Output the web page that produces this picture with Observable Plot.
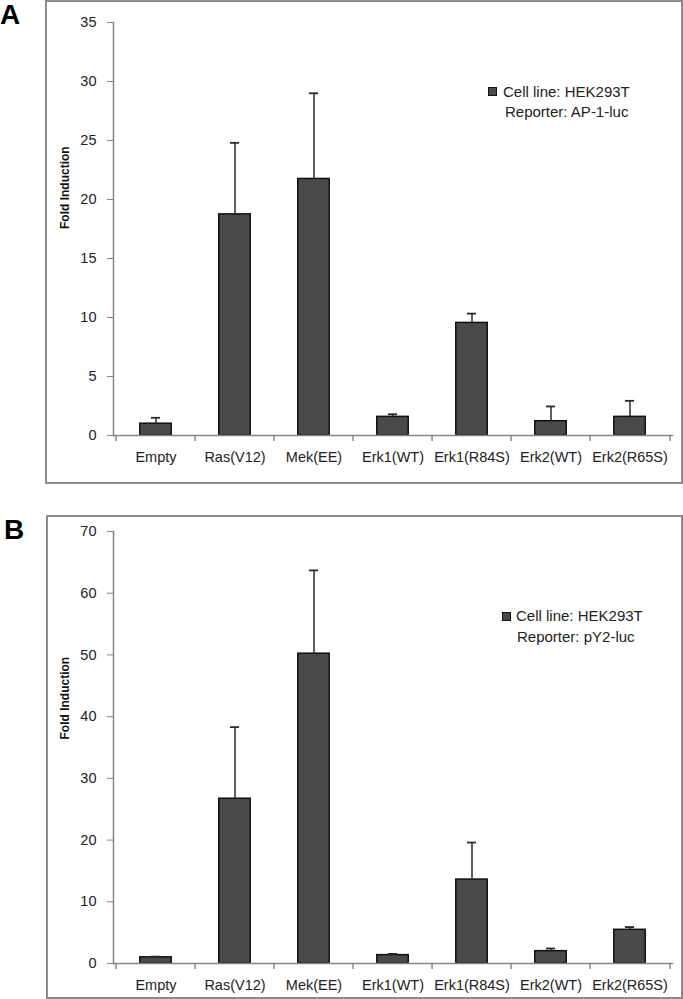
<!DOCTYPE html>
<html><head><meta charset="utf-8">
<script src="https://cdn.jsdelivr.net/npm/d3@7"></script>
<script src="https://cdn.jsdelivr.net/npm/@observablehq/plot@0.6"></script>
<style>
body{margin:0;background:#fff;width:683px;height:999px;position:relative;overflow:hidden;font-family:"Liberation Sans",Arial,sans-serif;}
.box{position:absolute;border:2px solid #8c8c8c;box-sizing:border-box;}
.plot{position:absolute;left:0;}
.letter{position:absolute;font-weight:bold;font-size:28px;line-height:28px;color:#000;}
.leg{position:absolute;font-size:15px;line-height:20px;color:#222;white-space:nowrap;}
.sw{position:absolute;width:9px;height:9px;background:#4a4a4a;border:1px solid #111;box-sizing:border-box;}
</style></head><body>
<script>
const categories = ["Empty","Ras(V12)","Mek(EE)","Erk1(WT)","Erk1(R84S)","Erk2(WT)","Erk2(R65S)"];
const valuesA = [1.0, 18.74, 21.74, 1.58, 9.54, 1.21, 1.58];
const errorsA = [0.5, 6.06, 7.26, 0.22, 0.79, 1.25, 1.36];
const valuesB = [1.0, 26.7, 50.2, 1.36, 13.6, 2.0, 5.46];
const errorsB = [0.12, 11.6, 13.5, 0.2, 6.0, 0.43, 0.44];
const ticksA = [0,5,10,15,20,25,30,35];
const ticksB = [0,10,20,30,40,50,60,70];
const legendA = ["Cell line: HEK293T","Reporter: AP-1-luc"];
const legendB = ["Cell line: HEK293T","Reporter: pY2-luc"];

const W = 683, ML = 113, MR = 11;
const step = (W - ML - MR) / categories.length;
const barInset = (step - 32.3) / 2;
const capInset = (step - 10) / 2;

function panel({values, errors, ticks, top, height, marginTop, marginBottom, labelDy}) {
  const data = categories.map((c, i) => ({c, v: values[i], e: errors[i]}));
  const last = [categories[categories.length - 1]];
  const chart = Plot.plot({
    width: W, height, marginLeft: ML, marginRight: MR, marginTop, marginBottom,
    style: {fontFamily: '"Liberation Sans", Arial, sans-serif', fontSize: "14.5px", color: "#222", background: "transparent", overflow: "visible"},
    x: {domain: categories, padding: 0, label: null, axis: null},
    y: {domain: [ticks[0], ticks[ticks.length - 1]], label: null, axis: null},
    marks: [
      Plot.barY(data, {x: "c", y: "v", fill: "#4a4a4a", stroke: "#111", strokeWidth: 1.5, insetLeft: barInset, insetRight: barInset}),
      Plot.ruleX(data, {x: "c", y1: "v", y2: d => d.v + d.e, stroke: "#2a2a2a", strokeWidth: 1.5}),
      Plot.tickY(data, {x: "c", y: d => d.v + d.e, stroke: "#2a2a2a", strokeWidth: 1.8, insetLeft: capInset, insetRight: capInset}),
      Plot.frame({anchor: "left", stroke: "#868686", strokeWidth: 1.5}),
      Plot.frame({anchor: "bottom", stroke: "#868686", strokeWidth: 1.5}),
      Plot.axisY({ticks, tickSize: 6, tickPadding: 11, stroke: "#868686", tickFormat: d => String(d), label: null}),
      Plot.axisX({tickSize: 0, tickPadding: 16, label: null}),
      Plot.ruleX(categories, {x: d => d, dx: -step / 2, y1: 0, y2: 0, insetBottom: -6, stroke: "#868686", strokeWidth: 1.5}),
      Plot.ruleX(last, {x: d => d, dx: step / 2, y1: 0, y2: 0, insetBottom: -6, stroke: "#868686", strokeWidth: 1.5}),
      Plot.text(["Fold Induction"], {frameAnchor: "left", dx: -48, dy: labelDy, rotate: -90, fontWeight: "bold", fontSize: 12, fill: "#111"})
    ]
  });
  chart.classList.add("plot");
  chart.style.top = top + "px";
  document.body.appendChild(chart);
}

function el(cls, css, text) {
  const d = document.createElement("div");
  d.className = cls;
  Object.assign(d.style, css);
  if (text) d.textContent = text;
  document.body.appendChild(d);
  return d;
}

el("box", {left: "45px", top: "0px", width: "638px", height: "484px"});
el("box", {left: "46px", top: "515px", width: "637px", height: "484px"});
el("letter", {left: "0px", top: "1px"}, "A");
el("letter", {left: "4px", top: "516px"}, "B");

panel({values: valuesA, errors: errorsA, ticks: ticksA, top: 0, height: 483, marginTop: 22, marginBottom: 48, labelDy: 0});
panel({values: valuesB, errors: errorsB, ticks: ticksB, top: 515, height: 484, marginTop: 16, marginBottom: 36, labelDy: -8});

el("sw", {left: "488px", top: "87px"});
el("leg", {left: "503px", top: "82px"}, legendA[0]);
el("leg", {left: "505px", top: "102px"}, legendA[1]);
el("sw", {left: "502px", top: "612px"});
el("leg", {left: "516px", top: "606px"}, legendB[0]);
el("leg", {left: "517px", top: "627px"}, legendB[1]);
</script>
</body></html>
